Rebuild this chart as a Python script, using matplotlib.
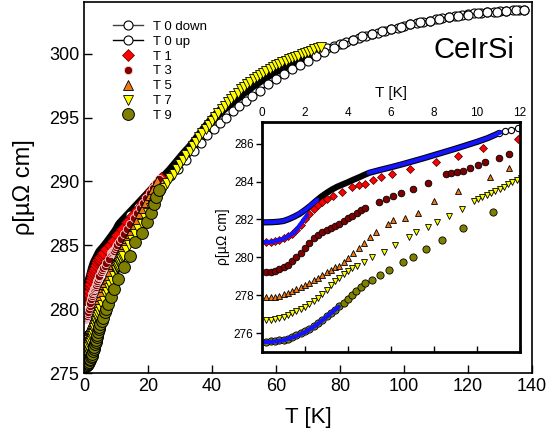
import numpy as np
import matplotlib.pyplot as plt

plt.rcParams['font.family'] = ['Liberation Sans', 'DejaVu Sans']
plt.rcParams['mathtext.default'] = 'regular'

# ---- data (T in K, rho in micro-ohm cm) ----
t0d_T = [0.1, 0.25, 0.5, 0.75, 1.0, 1.25, 1.5, 1.75, 2.0, 2.25, 2.5, 2.75, 3.0, 3.25, 3.5, 3.75,
         4.0, 4.25, 4.5, 4.75, 5.0, 5.5, 6.0, 6.5, 7.0, 7.5, 8.0, 8.5, 9.0, 9.5, 10.0, 10.5,
         11.0, 11.3, 11.6, 11.9, 12.2, 13.5, 15, 16.5, 18, 19.5, 21, 22.5, 24, 25.5, 27, 28.5,
         30, 31.5, 33, 34.5, 36, 37.5, 39, 40.5, 42, 43.5, 45, 46.5, 48, 49.5, 51, 52.5,
         54, 55.5, 57, 58.5, 60, 62, 64, 66, 68, 70, 72, 74, 76, 78, 80, 82, 84, 86, 88, 90,
         92, 94, 96, 98, 100, 102, 104, 106, 108, 110, 112, 114, 116, 118, 120, 122, 124,
         126, 128, 130, 132, 134, 136, 137.5]
t0d_r = [281.85, 281.85, 281.86, 281.88, 281.92, 282.02, 282.15, 282.3, 282.5, 282.72, 282.97,
         283.2, 283.4, 283.58, 283.73, 283.85, 283.97, 284.1, 284.22, 284.35, 284.47, 284.62,
         284.76, 284.91, 285.07, 285.23, 285.4, 285.57, 285.74, 285.92, 286.1, 286.3, 286.55,
         286.65, 286.74, 286.82, 286.9, 287.25, 287.65, 288.05, 288.45, 288.85, 289.25, 289.65,
         290.05, 290.45, 290.85, 291.3, 291.75, 292.2, 292.6, 293.05, 293.55, 294.05, 294.5,
         294.95, 295.35, 295.7, 296.0, 296.3, 296.6, 296.95, 297.2, 297.5, 297.75, 298.0,
         298.25, 298.5, 298.7, 298.95, 299.2, 299.45, 299.65, 299.85, 300.05, 300.25, 300.45,
         300.6, 300.8, 300.95, 301.1, 301.25, 301.4, 301.55, 301.65, 301.8, 301.9, 302.05,
         302.15, 302.3, 302.4, 302.5, 302.6, 302.7, 302.8, 302.85, 302.95, 303.0, 303.1,
         303.15, 303.2, 303.25, 303.3, 303.35, 303.35, 303.4, 303.45, 303.45]

t0u_T = [14.5, 17, 19.5, 22, 24.5, 27, 29.5, 32, 34.5, 36.5, 38.5, 40.5, 42.5, 44.5, 46.5, 48.5,
         50.5, 52.5, 55, 57.5, 60, 62.5, 65, 67.5, 70, 72.5, 75, 78, 81, 84, 87, 90, 93, 96,
         99, 102, 105, 108, 111, 114, 117, 120, 123, 126, 129, 132, 135, 137.5]
t0u_r = [287.4, 288.0, 288.6, 289.2, 289.8, 290.4, 291.0, 291.7, 292.4, 293.0, 293.6, 294.1,
         294.6, 295.0, 295.5, 295.9, 296.3, 296.7, 297.1, 297.6, 298.0, 298.4, 298.8, 299.1,
         299.45, 299.8, 300.1, 300.45, 300.8, 301.1, 301.35, 301.55, 301.75, 301.9, 302.1,
         302.3, 302.45, 302.6, 302.75, 302.85, 302.95, 303.05, 303.15, 303.25, 303.3, 303.35,
         303.4, 303.45]

t1_T = [0.2, 0.4, 0.6, 0.8, 1.0, 1.2, 1.4, 1.6, 1.8, 2.0, 2.2, 2.4, 2.6, 2.8, 3.0, 3.3, 3.7,
        4.2, 4.5, 4.8, 5.15, 5.55, 6.05, 6.9, 8.1, 9.1, 10.3, 11.9, 13.5, 15, 16.5, 18, 19.5,
        21, 22.5, 24]
t1_r = [280.8, 280.82, 280.86, 280.93, 281.02, 281.12, 281.22, 281.43, 281.7, 282.0, 282.3,
        282.55, 282.75, 282.92, 283.07, 283.25, 283.46, 283.72, 283.83, 283.9, 284.1, 284.25,
        284.4, 284.68, 285.05, 285.37, 285.8, 286.26, 286.8, 287.3, 287.8, 288.3, 288.8,
        289.3, 289.8, 290.3]

t3_T = [0.2, 0.4, 0.6, 0.8, 1.0, 1.2, 1.4, 1.6, 1.8, 2.0, 2.2, 2.4, 2.6, 2.8, 3.0, 3.2, 3.4,
        3.6, 3.8, 4.0, 4.2, 4.4, 4.6, 4.8, 5.42, 5.75, 6.07, 6.45, 7.0, 7.7, 8.55, 8.8, 9.07,
        9.35, 9.67, 10.05, 10.35, 11.0, 11.5, 12.5, 13.5, 14.5, 15.5, 16.5, 17.5, 18.5, 19.5,
        20.5, 21.5, 22.5, 23.5]
t3_r = [279.22, 279.23, 279.28, 279.36, 279.47, 279.62, 279.8, 280.0, 280.25, 280.5, 280.78,
        281.0, 281.17, 281.32, 281.45, 281.55, 281.65, 281.77, 281.92, 282.08, 282.2, 282.35,
        282.5, 282.61, 282.93, 283.09, 283.25, 283.41, 283.62, 283.94, 284.41, 284.47, 284.52,
        284.57, 284.73, 284.89, 285.05, 285.26, 285.47, 285.9, 286.3, 286.7, 287.1, 287.5,
        287.9, 288.3, 288.7, 289.1, 289.5, 289.9, 290.2]

t5_T = [0.2, 0.4, 0.6, 0.8, 1.0, 1.2, 1.4, 1.6, 1.8, 2.0, 2.2, 2.4, 2.6, 2.8, 3.0, 3.2, 3.4,
        3.6, 3.8, 4.0, 4.25, 4.5, 4.75, 5.0, 5.3, 5.84, 6.1, 6.64, 7.24, 8.0, 9.1, 10.6, 11.5,
        12.5, 13.5, 14.5, 15.5, 16.5, 17.5, 18.5, 19.5, 20.5, 21.5, 22.8]
t5_r = [277.9, 277.9, 277.93, 277.98, 278.05, 278.13, 278.23, 278.33, 278.44, 278.55, 278.67,
        278.8, 278.93, 279.07, 279.2, 279.34, 279.48, 279.55, 279.75, 279.95, 280.22, 280.5,
        280.78, 281.05, 281.35, 281.75, 281.95, 282.1, 282.35, 282.98, 283.5, 284.25, 284.7,
        285.1, 285.6, 286.0, 286.5, 287.0, 287.5, 287.9, 288.4, 288.9, 289.4, 290.0]

t7_T = [0.2, 0.4, 0.6, 0.8, 1.0, 1.2, 1.4, 1.6, 1.8, 2.0, 2.2, 2.4, 2.6, 2.8, 3.0, 3.2, 3.4,
        3.6, 3.8, 4.0, 4.2, 4.4, 4.75, 5.12, 5.66, 6.17, 6.84, 7.15, 7.7, 8.13, 8.7, 9.28,
        9.87, 10.05, 10.25, 10.45, 10.65, 10.85, 11.05, 11.25, 11.45, 11.65, 11.85, 12.05,
        13, 14, 15, 16, 17, 18, 19, 20, 21, 22, 23, 24, 25, 26, 27, 28, 29, 30, 31, 32, 33,
        34, 35, 36, 37, 38, 39, 40, 41, 42, 43, 44, 45, 46, 47, 48, 49, 50, 51, 52, 53, 54,
        55, 56, 57, 58, 59, 60, 61, 62, 63, 64, 65, 66, 67, 68, 69, 70, 71, 72, 73, 74]
t7_r = [276.68, 276.69, 276.72, 276.78, 276.86, 276.96, 277.07, 277.18, 277.28, 277.38, 277.52,
        277.68, 277.86, 278.06, 278.3, 278.55, 278.75, 278.93, 279.1, 279.26, 279.42, 279.54,
        279.77, 280.04, 280.3, 280.66, 281.1, 281.34, 281.62, 281.89, 282.19, 282.56, 283.0,
        283.1, 283.2, 283.3, 283.4, 283.5, 283.62, 283.73, 283.85, 283.96, 284.07, 284.19,
        284.6, 285.0, 285.4, 285.9, 286.3, 286.7, 287.1, 287.5, 287.9, 288.3, 288.7, 289.1,
        289.5, 289.9, 290.3, 290.6, 291.0, 291.35, 291.7, 292.05, 292.4, 292.75, 293.1,
        293.45, 293.8, 294.1, 294.45, 294.75, 295.05, 295.35, 295.65, 295.9, 296.2, 296.45,
        296.7, 296.95, 297.2, 297.4, 297.6, 297.8, 298.0, 298.2, 298.35, 298.5, 298.65, 298.8,
        298.95, 299.1, 299.2, 299.35, 299.45, 299.55, 299.65, 299.75, 299.85, 299.95, 300.05,
        300.15, 300.25, 300.35, 300.45, 300.5]

t9_T = [0.2, 0.4, 0.6, 0.8, 1.0, 1.2, 1.4, 1.6, 1.8, 2.0, 2.2, 2.4, 2.6, 2.8, 3.0, 3.2, 3.4,
        3.6, 3.8, 4.0, 4.2, 4.35, 4.6, 4.8, 5.12, 5.5, 5.9, 6.54, 7.02, 7.64, 8.36, 9.35, 10.73,
        12.5, 14.4, 15.9, 18.1, 19.7, 21.0, 21.9, 22.5, 23.4]
t9_r = [275.55, 275.56, 275.58, 275.61, 275.65, 275.71, 275.79, 275.88, 275.98, 276.09, 276.22,
        276.36, 276.52, 276.7, 276.88, 277.06, 277.24, 277.42, 277.6, 277.8, 278.0, 278.2,
        278.45, 278.62, 278.8, 279.07, 279.33, 279.76, 280.04, 280.44, 280.92, 281.56, 282.37,
        283.3, 284.2, 285.25, 286.0, 286.8, 287.5, 288.2, 288.8, 289.3]

# fits shown in the inset (blue)
fit0a_T = [0, 0.5, 1.0, 1.5, 2.0, 2.57]
fit0a_r = [281.85, 281.86, 281.92, 282.15, 282.5, 283.04]
fit0b_T = [4.95, 5.5, 6.45, 7.0, 8.0, 9.0, 9.6, 10.5, 11.1]
fit0b_r = [284.47, 284.62, 284.9, 285.07, 285.4, 285.74, 285.95, 286.3, 286.6]
fit1_T = [0, 0.5, 1.0, 1.5, 2.1]
fit1_r = [280.8, 280.82, 280.98, 281.3, 282.24]
fit9_T = [0, 0.5, 1.0, 1.5, 2.0, 2.5, 3.0, 3.57]
fit9_r = [275.52, 275.54, 275.62, 275.8, 276.05, 276.4, 276.85, 277.39]

c_red = '#ff0000'
c_dred = '#800000'
c_orange = '#f07814'
c_yellow = '#ffff00'
c_olive = '#808000'

# dense part of T0 down looks like a solid black band
n_main = sum(1 for t in t0d_T if t <= 74)
n_in = sum(1 for t in t0d_T if t <= 11)

fig = plt.figure(figsize=(5.53, 4.36), dpi=100)
ax = fig.add_axes([84/553, 1-373/436, 448/553, 371/436])

ax.plot(t0d_T[:n_main], t0d_r[:n_main], '-', color='black', lw=7, solid_capstyle='round')
ax.plot(t0d_T[n_main-1:], t0d_r[n_main-1:], '-o', color='#404040', mfc='white', mec='black',
        ms=6.5, mew=0.8, lw=1, label='T 0 down')
ax.plot(t0u_T, t0u_r, '-o', color='black', mfc='white', mec='black', ms=6.5, mew=0.8, lw=1,
        label='T 0 up')
ax.plot(t1_T, t1_r, 'D', mfc=c_red, mec='#600000', ms=6, mew=0.5, ls='none', label='T 1')
ax.plot(t3_T, t3_r, 'o', mfc=c_dred, mec='#ffd8d8', ms=6, mew=0.6, ls='none', label='T 3')
ax.plot(t5_T, t5_r, '^', mfc=c_orange, mec='black', ms=7, mew=0.6, ls='none', label='T 5')
ax.plot(t7_T, t7_r, 'v', mfc=c_yellow, mec='black', ms=7, mew=0.6, ls='none', label='T 7')
ax.plot(t9_T, t9_r, 'o', mfc=c_olive, mec='black', ms=8.5, mew=0.7, ls='none', label='T 9')

ax.set_xlim(0, 140)
ax.set_ylim(275, 304.05)
ax.set_xticks(range(0, 141, 20))
ax.set_yticks(range(275, 301, 5))
ax.tick_params(direction='in', length=5.5, width=1, labelsize=13, top=False, right=False)
for s in ax.spines.values():
    s.set_linewidth(1.2)
ax.set_xlabel('T [K]', fontsize=16)
ax.set_ylabel('ρ[µΩ cm]', fontsize=17)
ax.xaxis.set_label_coords(0.5, -0.092)
ax.yaxis.set_label_coords(-0.11, 0.5)

ax.legend(loc='upper left', bbox_to_anchor=(0.065, 0.95), frameon=False, fontsize=9.5,
          borderpad=0, borderaxespad=0, handlelength=2.3, handletextpad=0.7, labelspacing=0.2)

ax.text(0.87, 0.87, 'CeIrSi', transform=ax.transAxes, fontsize=21, ha='center', va='center')

# inset
ax2 = fig.add_axes([262/553, 1-352/436, 258/553, 230/436])
ax2.plot(t0d_T[:n_in], t0d_r[:n_in], '-', color='black', lw=4.5, solid_capstyle='round')
ax2.plot(t0d_T[n_in-1:], t0d_r[n_in-1:], '-o', color='black', mfc='white', mec='black',
         ms=4.5, mew=0.8, lw=1)
ax2.plot(t1_T, t1_r, 'D', mfc=c_red, mec='#400000', ms=4, mew=0.5, ls='none')
ax2.plot(t3_T, t3_r, 'o', mfc=c_dred, mec='black', ms=4.8, mew=0.6, ls='none')
ax2.plot(t5_T, t5_r, '^', mfc=c_orange, mec='black', ms=4.8, mew=0.6, ls='none')
ax2.plot(t7_T, t7_r, 'v', mfc=c_yellow, mec='black', ms=4.8, mew=0.6, ls='none')
ax2.plot(t9_T, t9_r, 'o', mfc=c_olive, mec='black', ms=5.2, mew=0.6, ls='none')
for ft, fr in [(fit0a_T, fit0a_r), (fit0b_T, fit0b_r), (fit1_T, fit1_r), (fit9_T, fit9_r)]:
    ax2.plot(ft, fr, '-', color='#1414ff', lw=3, solid_capstyle='round')

ax2.set_xlim(0, 12)
ax2.set_ylim(275, 287.15)
ax2.set_xticks(range(0, 13, 2))
ax2.set_yticks(range(276, 287, 2))
ax2.tick_params(axis='x', direction='in', length=4, width=1, bottom=True, top=False,
                labelbottom=False, labeltop=True, labelsize=8.5, pad=2)
ax2.tick_params(axis='y', direction='out', length=4, width=1, labelsize=8.5, right=False,
                pad=2)
for s in ax2.spines.values():
    s.set_linewidth(2)
ax2.xaxis.set_label_position('top')
ax2.set_xlabel('T [K]', fontsize=11)
ax2.set_ylabel('ρ[µΩ cm]', fontsize=10)
ax2.xaxis.set_label_coords(0.5, 1.11)
ax2.yaxis.set_label_coords(-0.125, 0.5)

fig.savefig('out.png', dpi=100)
